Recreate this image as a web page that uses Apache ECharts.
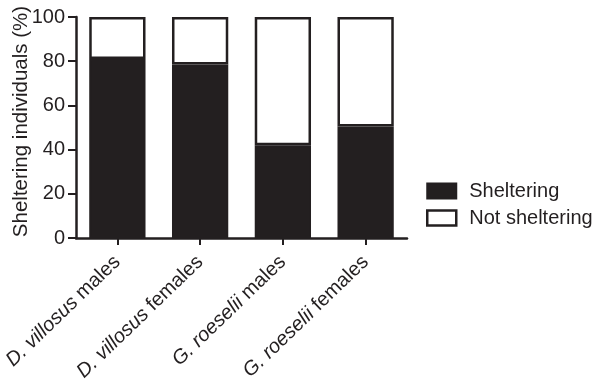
<!DOCTYPE html>
<html>
<head>
<meta charset="utf-8">
<script src="https://cdn.jsdelivr.net/npm/echarts@6/dist/echarts.min.js"></script>
<style>
  html, body { margin: 0; padding: 0; background: #fff; }
  #chart { width: 597px; height: 388px; }
</style>
</head>
<body>
<div id="chart"></div>
<script>
// Groups: species (italic) + sex
const species = ['D. villosus', 'D. villosus', 'G. roeselii', 'G. roeselii'];
const sexes = ['males', 'females', 'males', 'females'];
const categories = ['D. villosus males', 'D. villosus females', 'G. roeselii males', 'G. roeselii females'];

// Percent of individuals sheltering / not sheltering
const sheltering = [81, 78.5, 42, 50.5];
const notSheltering = [19, 21.5, 58, 49.5];

const yTicks = [0, 20, 40, 60, 80, 100];

const FONT = '"Liberation Sans", Arial, sans-serif';
const INK = '#231f20';

const chart = echarts.init(document.getElementById('chart'), null, { renderer: 'canvas' });

chart.setOption({
  animation: false,
  backgroundColor: '#ffffff',
  textStyle: { fontFamily: FONT, color: INK },
  grid: {
    left: 76, right: 190, top: 17, bottom: 150,
    containLabel: false,
    outerBoundsMode: 'none'
  },
  legend: {
    left: 426,
    top: 181,
    padding: 0,
    orient: 'vertical',
    itemWidth: 29,
    itemHeight: 15,
    itemGap: 7,
    icon: 'rect',
    textStyle: { fontFamily: FONT, fontSize: 20, color: INK, padding: [0, 0, 0, 8] },
    data: [
      { name: 'Sheltering', itemStyle: { color: INK, borderColor: INK, borderWidth: 2 } },
      { name: 'Not sheltering', itemStyle: { color: '#ffffff', borderColor: INK, borderWidth: 2.5 } }
    ]
  },
  xAxis: {
    type: 'category',
    data: categories,
    axisLine: { lineStyle: { color: INK, width: 2.5 } },
    axisTick: { show: true, alignWithLabel: true, length: 7, lineStyle: { color: INK, width: 2 } },
    axisLabel: {
      rotate: 44,
      margin: 21,
      interval: 0,
      fontFamily: FONT,
      fontSize: 20,
      color: INK,
      formatter: (v, i) => '{i|' + species[i] + '} {n|' + sexes[i] + '}',
      rich: {
        i: { fontStyle: 'italic', fontFamily: FONT, fontSize: 20, color: INK },
        n: { fontFamily: FONT, fontSize: 20, color: INK }
      }
    },
    splitLine: { show: false }
  },
  yAxis: {
    type: 'value',
    min: 0,
    max: 100,
    interval: 20,
    name: 'Sheltering individuals (%)',
    nameLocation: 'middle',
    nameGap: 44,
    nameMoveOverlap: false,
    nameTextStyle: { fontFamily: FONT, fontSize: 20.5, color: INK, padding: [0, 0, 0, 12] },
    axisLine: { show: true, lineStyle: { color: INK, width: 2.5 } },
    axisTick: { show: true, length: 8, lineStyle: { color: INK, width: 2 } },
    axisLabel: {
      margin: 11,
      fontFamily: FONT,
      fontSize: 20,
      color: INK,
      formatter: v => (yTicks.indexOf(v) >= 0 ? String(v) : '')
    },
    splitLine: { show: false }
  },
  series: [
    {
      name: 'Sheltering',
      type: 'bar',
      stack: 'total',
      barWidth: '68%',
      data: sheltering,
      itemStyle: { color: INK, borderColor: INK, borderWidth: 2 }
    },
    {
      name: 'Not sheltering',
      type: 'bar',
      stack: 'total',
      barWidth: '68%',
      data: notSheltering,
      itemStyle: { color: '#ffffff', borderColor: INK, borderWidth: 2.5 }
    }
  ]
});
</script>
</body>
</html>
